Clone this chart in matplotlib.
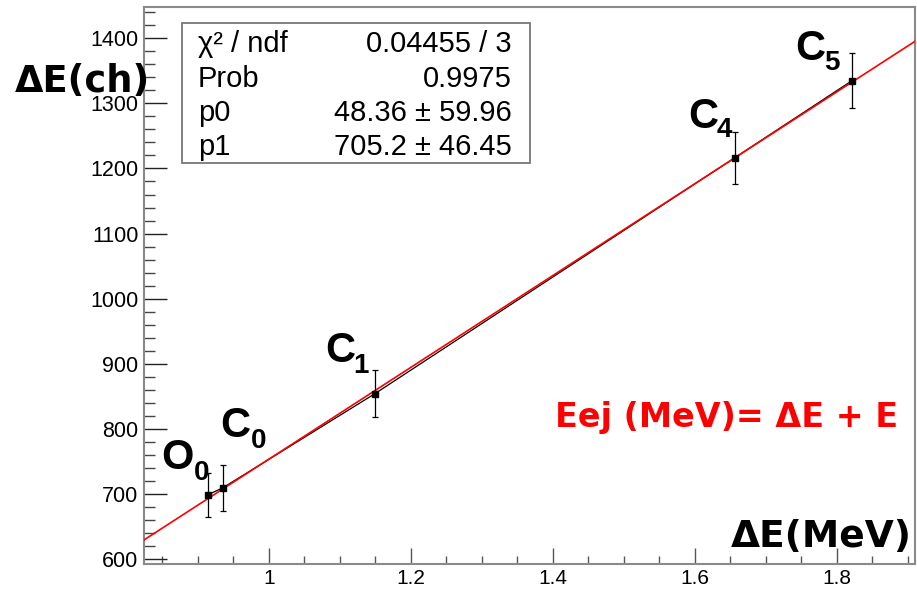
import matplotlib
matplotlib.use("Agg")
import matplotlib.pyplot as plt
from matplotlib.patches import Rectangle
from matplotlib.ticker import MultipleLocator, FuncFormatter

# ---- data ----
energy_mev = [0.914, 0.935, 1.149, 1.656, 1.821]
channel = [698.8, 709.5, 853.9, 1216.4, 1334.7]
channel_err = [34, 35, 36, 40, 42]
state_letters = ["O", "C", "C", "C", "C"]
state_subs = ["0", "0", "1", "4", "5"]
fit_p0 = 48.36
fit_p1 = 705.2
stats_names = ["χ² / ndf", "Prob", "p0", "p1"]
stats_values = ["0.04455 / 3", "0.9975", "48.36 ± 59.96", "705.2 ± 46.45"]
x_lim = (0.824, 1.91)
y_lim = (592.5, 1448)

tick_font = "Liberation Sans"
plt.rcParams["font.family"] = [tick_font, "DejaVu Sans"]

W, H = 917, 591
fig = plt.figure(figsize=(W / 100, H / 100), dpi=100)
ax = fig.add_axes([144 / W, 1 - 564 / H, (915 - 144) / W, (564 - 7) / H])
ax.set_xlim(*x_lim)
ax.set_ylim(*y_lim)

for s in ax.spines.values():
    s.set_color("#8a8a8a")
    s.set_linewidth(1.5)

ax.xaxis.set_major_locator(MultipleLocator(0.2))
ax.xaxis.set_minor_locator(MultipleLocator(0.05))
ax.yaxis.set_major_locator(MultipleLocator(100))
ax.yaxis.set_minor_locator(MultipleLocator(20))
ax.tick_params(axis="y", which="major", direction="in", length=16.5, width=1, color="#222222",
               pad=4, labelsize=15.5)
ax.tick_params(axis="y", which="minor", direction="in", length=8, width=1, color="#444444")
ax.tick_params(axis="x", which="major", direction="in", length=11.5, width=1, color="#555555",
               pad=3.5, labelsize=15)
ax.tick_params(axis="x", which="minor", direction="in", length=5.8, width=1, color="#555555")
ax.tick_params(top=False, right=False, which="both")
ax.xaxis.set_major_formatter(FuncFormatter(lambda v, p: f"{v:g}"))
ax.yaxis.set_major_formatter(FuncFormatter(lambda v, p: f"{v:g}"))

# graph line and points
ax.plot(energy_mev, channel, color="black", lw=0.9, zorder=2)
ax.errorbar(energy_mev, channel, yerr=channel_err, fmt="s", color="black",
            ms=4.5, elinewidth=0.9, capsize=2, capthick=0.9, zorder=4)
# fit line
fx = list(x_lim)
fy = [fit_p0 + fit_p1 * v for v in fx]
ax.plot(fx, fy, color="#ff0000", lw=1.2, zorder=3)

# point labels (offsets in pixels: letter, subscript)
offs = [((-47, 26), (-14, 15)), ((-3, 51), (28, 40)), ((-49, 32), (-21, 21)),
        ((-46, 30), (-18, 21)), ((-57, 21), (-28, 11))]
for xv, yv, L, S, (lo, so) in zip(energy_mev, channel, state_letters, state_subs, offs):
    ax.annotate(L, (xv, yv), xytext=lo, textcoords="offset pixels", ha="left", va="baseline",
                fontsize=30, fontweight="bold", family="Liberation Sans", zorder=5)
    ax.annotate(S, (xv, yv), xytext=so, textcoords="offset pixels", ha="left", va="baseline",
                fontsize=20, fontweight="bold", family="Liberation Sans", zorder=5)

# axis titles
bold_font = ["DejaVu Sans"]
fig.text(15 / W, 1 - 92 / H, "ΔE(ch)", fontsize=26.5, fontweight="bold", family=bold_font,
         ha="left", va="baseline")
fig.text(912 / W, 1 - 547 / H, "ΔE(MeV)", fontsize=27, fontweight="bold", family=bold_font,
         ha="right", va="baseline")
fig.text(555 / W, 1 - 427 / H, "Eej (MeV)= ΔE + E", fontsize=24, fontweight="bold",
         family=bold_font, color="#ff0000", ha="left", va="baseline")

# stats box
fig.add_artist(Rectangle((182 / W, 1 - 163 / H), (530 - 182) / W, (163 - 23) / H,
                         transform=fig.transFigure, facecolor="white", edgecolor="#777777",
                         lw=1.3, zorder=10))
baselines = [52, 87, 121, 155]
for nm, val, b in zip(stats_names, stats_values, baselines):
    fig.text(198 / W, 1 - b / H, nm, fontsize=21, family=tick_font, ha="left",
             va="baseline", zorder=11)
    fig.text(512 / W, 1 - b / H, val, fontsize=21, family=tick_font, ha="right",
             va="baseline", zorder=11)

fig.savefig("out.png", dpi=100)
